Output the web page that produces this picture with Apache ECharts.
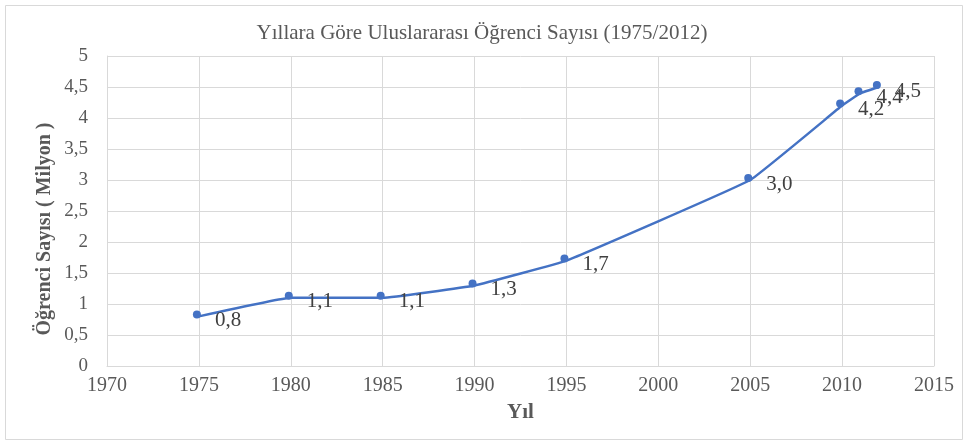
<!DOCTYPE html>
<html><head><meta charset="utf-8">
<script src="https://cdn.jsdelivr.net/npm/echarts@6/dist/echarts.min.js"></script>
<style>html,body{margin:0;padding:0;background:#fff}#c{width:964px;height:443px}</style>
</head><body><div id="c"></div>
<script>
const years = [1975, 1980, 1985, 1990, 1995, 2005, 2010, 2011, 2012];
const students = [0.8, 1.1, 1.1, 1.3, 1.7, 3.0, 4.2, 4.4, 4.5];
const valueLabels = ['0,8', '1,1', '1,1', '1,3', '1,7', '3,0', '4,2', '4,4', '4,5'];
const titleText = 'Yıllara Göre Uluslararası Öğrenci Sayısı (1975/2012)';
const xName = 'Yıl';
const yName = 'Öğrenci Sayısı ( Milyon )';

const font = '"Liberation Serif", "Times New Roman", serif';
const chart = echarts.init(document.getElementById('c'), null, {renderer: 'canvas'});
chart.setOption({
  animation: false,
  backgroundColor: '#fff',
  title: {
    text: titleText, left: 'center', top: 18,
    textStyle: {fontFamily: font, fontSize: 21, fontWeight: 'normal', color: '#595959'}
  },
  graphic: [
    {type: 'rect', shape: {x: 5.5, y: 5.5, width: 957, height: 434}, style: {fill: 'none', stroke: '#d9d9d9', lineWidth: 1}, silent: true},
    {type: 'text', x: 45, y: 229, rotation: Math.PI / 2, style: {text: yName, font: 'bold 20px ' + font, fill: '#595959', textAlign: 'center', textVerticalAlign: 'middle'}}
  ],
  grid: {left: 107, right: 30, top: 56, bottom: 77, containLabel: false},
  xAxis: {
    type: 'value', min: 1970, max: 2015, interval: 5,
    name: xName, nameLocation: 'middle', nameGap: 36,
    nameTextStyle: {fontFamily: font, fontSize: 21, fontWeight: 'bold', color: '#595959'},
    axisLine: {show: true, lineStyle: {color: '#d9d9d9'}},
    axisTick: {show: false},
    axisLabel: {fontFamily: font, fontSize: 20, color: '#595959', margin: 10, formatter: v => String(v)},
    splitLine: {show: true, lineStyle: {color: '#d9d9d9'}}
  },
  yAxis: {
    type: 'value', min: 0, max: 5, interval: 0.5,
    axisLine: {show: true, lineStyle: {color: '#d9d9d9'}},
    axisTick: {show: false},
    axisLabel: {fontFamily: font, fontSize: 19, color: '#595959', margin: 19, formatter: v => String(v).replace('.', ',')},
    splitLine: {show: true, lineStyle: {color: '#d9d9d9'}}
  },
  series: [{
    type: 'line',
    data: years.map((y, i) => [y, students[i]]),
    smooth: 0.08,
    lineStyle: {color: '#4472C4', width: 2.5},
    itemStyle: {color: '#4472C4'},
    symbol: 'circle', symbolSize: 8, symbolOffset: [-2, -2],
    showAllSymbol: true,
    label: {
      show: true, position: 'right', distance: 14, offset: [0, 6],
      fontFamily: font, fontSize: 21, color: '#404040',
      formatter: p => valueLabels[p.dataIndex]
    }
  }]
});
</script></body></html>
